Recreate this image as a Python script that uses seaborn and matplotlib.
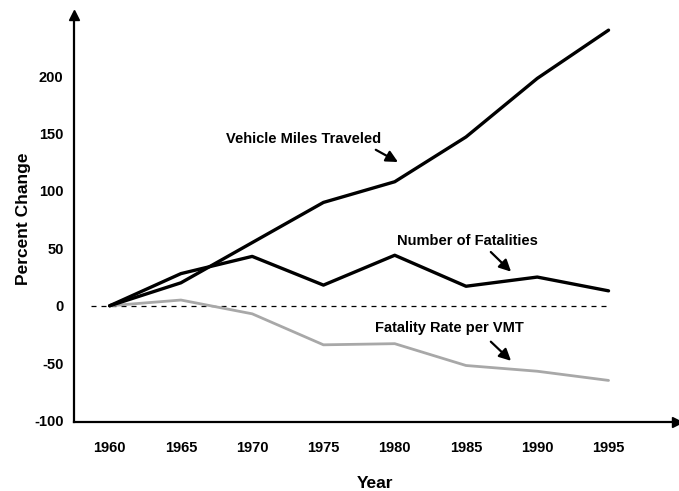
import pandas as pd
import matplotlib.pyplot as plt
import seaborn as sns

sns.set_style('white')
plt.rcParams['font.family'] = ['Liberation Sans', 'DejaVu Sans']
plt.rcParams['font.weight'] = 'bold'
plt.rcParams['axes.unicode_minus'] = False
for k in ['text.color', 'axes.labelcolor', 'xtick.color', 'ytick.color']:
    plt.rcParams[k] = 'black'

years = [1960, 1965, 1970, 1975, 1980, 1985, 1990, 1995]
vmt = [0, 20, 55, 90, 108, 147, 198, 240]
fatalities = [0, 28, 43, 18, 44, 17, 25, 13]
fatality_rate = [0, 5, -7, -34, -33, -52, -57, -65]

df = pd.DataFrame({'Year': years, 'vmt': vmt, 'fat': fatalities, 'rate': fatality_rate})

fig = plt.figure(figsize=(6.79, 4.91), dpi=100)
ax = fig.add_axes([0.109, 0.141, 0.888, 0.828])

# zero reference
ax.plot([1958.7, 1995], [0, 0], color='black', lw=0.9, ls=(0, (4, 4)))

sns.lineplot(data=df, x='Year', y='rate', ax=ax, color='#a8a8a8', lw=2.0)
sns.lineplot(data=df, x='Year', y='vmt', ax=ax, color='black', lw=2.4)
sns.lineplot(data=df, x='Year', y='fat', ax=ax, color='black', lw=2.4)

ax.set_xlim(1957.5, 1999.8)
ax.set_ylim(-101, 253)
ax.set_xticks(years)
ax.set_yticks([-100, -50, 0, 50, 100, 150, 200])
ax.tick_params(axis='both', labelsize=10.5, length=3, width=0.6, direction='inout')
ax.tick_params(axis='x', pad=14, length=0)
ax.tick_params(axis='y', pad=6)
for lab in ax.get_xticklabels() + ax.get_yticklabels():
    lab.set_fontweight('bold')

ax.spines['top'].set_visible(False)
ax.spines['right'].set_visible(False)
ax.spines['left'].set_linewidth(1.6)
ax.spines['bottom'].set_linewidth(1.6)
ax.spines['left'].set_color('black')
ax.spines['bottom'].set_color('black')
# arrow heads on the axes
ax.plot(1, 0, '>k', ms=7, transform=ax.transAxes, clip_on=False)
ax.plot(0, 1, '^k', ms=7, transform=ax.transAxes, clip_on=False)

ax.set_xlabel('Year', fontsize=12.5, fontweight='bold', labelpad=15)
ax.set_ylabel('Percent Change', fontsize=12.5, fontweight='bold', labelpad=2)

akw = dict(arrowstyle='-|>,head_length=0.7,head_width=0.35', color='black', lw=1.6)
ax.annotate('Vehicle Miles Traveled', xy=(1980.4, 124), xytext=(1973.6, 145),
            ha='center', va='center', fontsize=10.5, fontweight='bold')
ax.annotate('', xy=(1980.4, 124), xytext=(1978.5, 137), arrowprops=akw)
ax.annotate('Number of Fatalities', xy=(1988.3, 28), xytext=(1985.1, 56.5),
            ha='center', va='center', fontsize=10.5, fontweight='bold')
ax.annotate('', xy=(1988.3, 28), xytext=(1986.6, 48.5), arrowprops=akw)
ax.annotate('Fatality Rate per VMT', xy=(1988.3, -49.6), xytext=(1983.8, -19),
            ha='center', va='center', fontsize=10.5, fontweight='bold')
ax.annotate('', xy=(1988.3, -49.6), xytext=(1986.6, -29.6), arrowprops=akw)

fig.savefig('out.png', dpi=100)
